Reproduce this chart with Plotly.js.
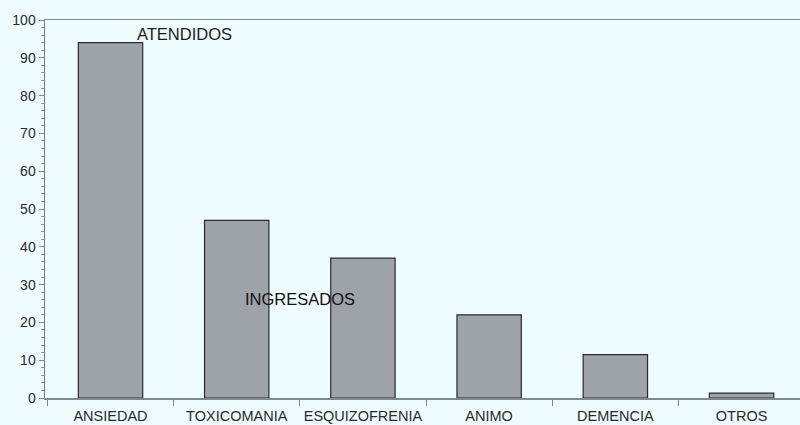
<!DOCTYPE html>
<html><head><meta charset="utf-8">
<script src="https://cdn.plot.ly/plotly-3.0.1.min.js"></script>
<style>html,body{margin:0;padding:0;background:#effcff;}#chart{width:800px;height:425px;}</style>
</head><body><div id="chart"></div>
<script>
const categories = ["ANSIEDAD","TOXICOMANIA","ESQUIZOFRENIA","ANIMO","DEMENCIA","OTROS"];
const values = [94, 47, 37, 22, 11.5, 1.3];
const yTicks = [0,10,20,30,40,50,60,70,80,90,100];

const trace = {
  type: "bar", x: categories, y: values, width: 0.51,
  marker: {color: "#9ea2a9", line: {color: "#2b2b2b", width: 1.2}},
  hoverinfo: "skip"
};
const layout = {
  width: 800, height: 425,
  margin: {l: 45, r: 0, t: 20, b: 27},
  paper_bgcolor: "#effcff", plot_bgcolor: "#effcff",
  font: {family: "Liberation Sans, Arial, sans-serif", color: "#2a2a2a", size: 13},
  showlegend: false,
  xaxis: {
    type: "category", range: [-0.519, 5.463], tickangle: 0, automargin: false,
    tickson: "boundaries", ticks: "outside", ticklen: 6, tickcolor: "#7d8a96",
    ticklabelstandoff: 4,
    showline: true, linecolor: "#7d8a96", linewidth: 1.5, mirror: true,
    showgrid: false, zeroline: false, tickfont: {size: 14.5, color: "#2a2a2a"}
  },
  yaxis: {
    range: [0, 100], tickvals: yTicks, ticks: "outside", ticklen: 5, tickcolor: "#7d8a96",
    minor: {dtick: 2, ticks: "outside", ticklen: 3, tickcolor: "#8a96a2", showgrid: false},
    showline: true, linecolor: "#6d7a86", linewidth: 1.5,
    showgrid: false, zeroline: false, tickfont: {size: 14, color: "#2a2a2a"}
  },
  annotations: [
    {text: "ATENDIDOS", x: 0.59, y: 96.3, xref: "x", yref: "y", showarrow: false, font: {size: 16.5, color: "#1a1a1a"}},
    {text: "INGRESADOS", x: 1.5, y: 26.2, xref: "x", yref: "y", showarrow: false, font: {size: 16.5, color: "#111"}}
  ]
};
Plotly.newPlot("chart", [trace], layout, {displayModeBar: false, staticPlot: true});
</script></body></html>
